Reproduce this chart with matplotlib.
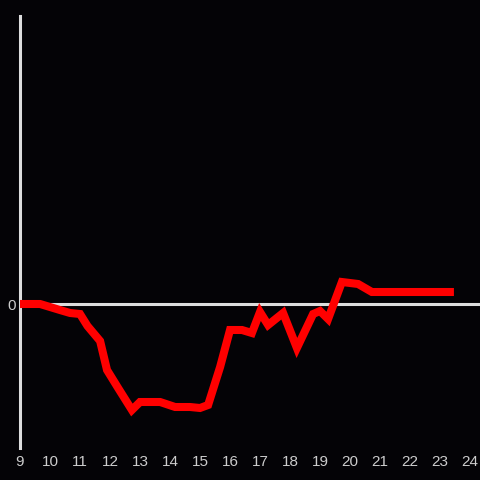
import matplotlib
matplotlib.use("Agg")
import matplotlib.pyplot as plt

plt.rcParams["font.family"] = ["Liberation Sans", "DejaVu Sans"]

# hours of day and value (relative to zero line)
hours = [9.0, 9.33, 9.67, 10.0, 10.33, 10.67, 11.0, 11.25, 11.67, 11.9, 12.27, 12.73,
         13.0, 13.67, 14.17, 14.67, 15.0, 15.27, 15.67, 16.0, 16.4, 16.73, 17.0,
         17.27, 17.77, 18.23, 18.77, 19.0, 19.27, 19.73, 20.27, 20.73, 21.0, 22.0,
         23.33]
values = [0, 0, 0, -3, -6, -9, -10, -22, -37, -66, -84, -106,
          -98, -98, -103, -103, -104, -101, -63, -26, -26, -29, -8,
          -21, -9, -44, -10, -7, -15, 22, 20, 12, 12, 12,
          12]
xticks = list(range(9, 25))

bg = "#040306"
fig = plt.figure(figsize=(4.8, 4.8), dpi=100, facecolor=bg)
ax = fig.add_axes([20 / 480, 1 - 448 / 480, 460 / 480, 432 / 480])
ax.set_facecolor(bg)

ax.axhline(0, color="#dddddd", lw=2.2, zorder=1)
ax.plot(hours, values, color="#ff0000", lw=5.8, solid_joinstyle="miter", zorder=3)

ax.set_xlim(9, 9 + 460 / 30)
ax.set_ylim(-144, 288)
ax.set_xticks(xticks)
ax.set_yticks([0])
ax.tick_params(colors="#cccccc", length=0, labelsize=11)
ax.tick_params(axis="x", pad=5)
ax.tick_params(axis="y", pad=3)

for s in ["top", "right", "bottom"]:
    ax.spines[s].set_visible(False)
ax.spines["left"].set_color("#dddddd")
ax.spines["left"].set_linewidth(2.2)

fig.savefig("out.png", dpi=100, facecolor=bg)
